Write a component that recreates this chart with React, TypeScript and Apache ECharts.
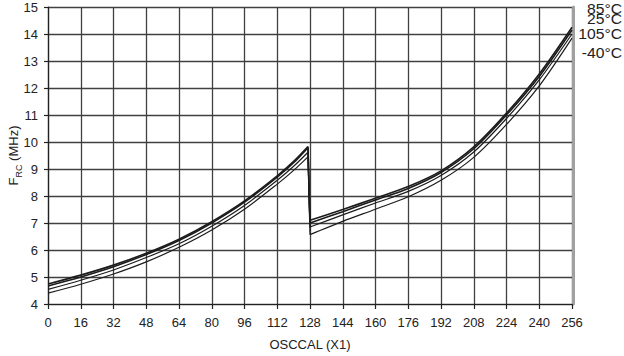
import React, { useEffect, useRef } from 'react';
import * as echarts from 'echarts';

const osccal = [0, 16, 32, 48, 64, 80, 96, 112, 120, 127, 128, 144, 160, 176, 192, 208, 224, 240, 256];
const f85 = [4.74, 5.07, 5.44, 5.88, 6.40, 7.05, 7.82, 8.75, 9.28, 9.83, 7.10, 7.50, 7.92, 8.35, 8.93, 9.82, 11.07, 12.52, 14.25];
const f25 = [4.67, 5.00, 5.38, 5.83, 6.35, 7.00, 7.77, 8.70, 9.23, 9.79, 7.00, 7.42, 7.85, 8.28, 8.87, 9.75, 11.00, 12.43, 14.15];
const f105 = [4.54, 4.88, 5.26, 5.72, 6.23, 6.88, 7.65, 8.58, 9.10, 9.62, 6.85, 7.30, 7.74, 8.17, 8.76, 9.63, 10.87, 12.30, 14.00];
const fm40 = [4.40, 4.73, 5.11, 5.56, 6.10, 6.74, 7.51, 8.44, 8.95, 9.45, 6.57, 7.06, 7.51, 7.97, 8.58, 9.43, 10.65, 12.08, 13.85];
const legendLabels = ['85°C', '25°C', '105°C', '-40°C'];
const FONT = 'Liberation Sans, Arial, Helvetica, sans-serif';

export default function App() {
  const ref = useRef<HTMLDivElement>(null);
  useEffect(() => {
    const chart = echarts.init(ref.current!, null, { renderer: 'svg' });
    const pairs = (vals: number[]) => osccal.map((x, i) => [x, vals[i]]);
    const lineSeries = (name: string, data: number[][], w: number, smooth: boolean) => ({
      name,
      type: 'line',
      data,
      showSymbol: false,
      symbol: 'none',
      smooth: smooth ? 0.3 : false,
      lineStyle: { color: '#1c1c1c', width: w },
      z: 5,
    });
    const split = 10;
    const seriesFor = (name: string, vals: number[], w: number) => {
      const p = pairs(vals);
      return [
        lineSeries(name, p.slice(0, split), w, true),
        lineSeries(name, p.slice(split - 1, split + 1), w, false),
        lineSeries(name, p.slice(split), w, true),
      ];
    };
    const legendY = [9, 19, 34, 53];
    chart.setOption({
      animation: false,
      textStyle: { fontFamily: FONT },
      grid: { left: 48, right: 52, top: 7, bottom: 52, outerBoundsMode: 'none', containLabel: false },
      xAxis: {
        type: 'value',
        min: 0,
        max: 256,
        interval: 16,
        name: 'OSCCAL (X1)',
        nameLocation: 'middle',
        nameGap: 34,
        nameMoveOverlap: false,
        nameTextStyle: { fontSize: 13, color: '#222', fontFamily: FONT },
        axisLine: { show: true, lineStyle: { color: '#222', width: 1.2 } },
        axisTick: { show: true, length: 5, lineStyle: { color: '#222', width: 1.2 } },
        axisLabel: { fontSize: 13, color: '#222', margin: 12, fontFamily: FONT },
        splitLine: { show: true, lineStyle: { color: '#404040', width: 1.3 } },
      },
      yAxis: [
        {
          type: 'value',
          min: 4,
          max: 15,
          interval: 1,
          name: '{f|F}{s|RC}{f| (MHz)}',
          nameLocation: 'middle',
          nameGap: 28,
          nameMoveOverlap: false,
          nameTextStyle: {
            color: '#222',
            fontSize: 13,
            fontFamily: FONT,
            rich: {
              f: { fontSize: 13, lineHeight: 13, verticalAlign: 'top', fontFamily: FONT, color: '#222' },
              s: { fontSize: 9, lineHeight: 9, verticalAlign: 'top', padding: [7, 0, 0, 0], fontFamily: FONT, color: '#222' },
            },
          },
          axisLine: { show: true, lineStyle: { color: '#222', width: 1.2 } },
          axisTick: { show: true, length: 4, lineStyle: { color: '#222', width: 1.2 } },
          axisLabel: { fontSize: 13, color: '#222', margin: 10, fontFamily: FONT },
          splitLine: { show: true, lineStyle: { color: '#404040', width: 1.3 } },
        },
        {
          type: 'value',
          min: 4,
          max: 15,
          interval: 1,
          position: 'right',
          offset: 1.5,
          axisLine: { show: true, lineStyle: { color: '#a0a0a0', width: 3 } },
          axisTick: { show: false },
          axisLabel: { show: false },
          splitLine: { show: false },
        },
      ],
      series: [
        ...seriesFor('-40°C', fm40, 1.2),
        ...seriesFor('105°C', f105, 1.2),
        ...seriesFor('25°C', f25, 1.6),
        ...seriesFor('85°C', f85, 1.6),
      ],
      graphic: legendLabels.map((t, i) => ({
        type: 'text',
        x: 622,
        y: legendY[i],
        scaleX: 1.12,
        style: {
          text: t,
          x: 0,
          y: 0,
          align: 'right',
          verticalAlign: 'middle',
          fontSize: 14,
          fontFamily: FONT,
          fill: '#222',
        },
      })),
    });
    return () => chart.dispose();
  }, []);
  return <div ref={ref} style={{ position: 'absolute', left: 0, top: 0, width: 624, height: 356 }} />;
}
